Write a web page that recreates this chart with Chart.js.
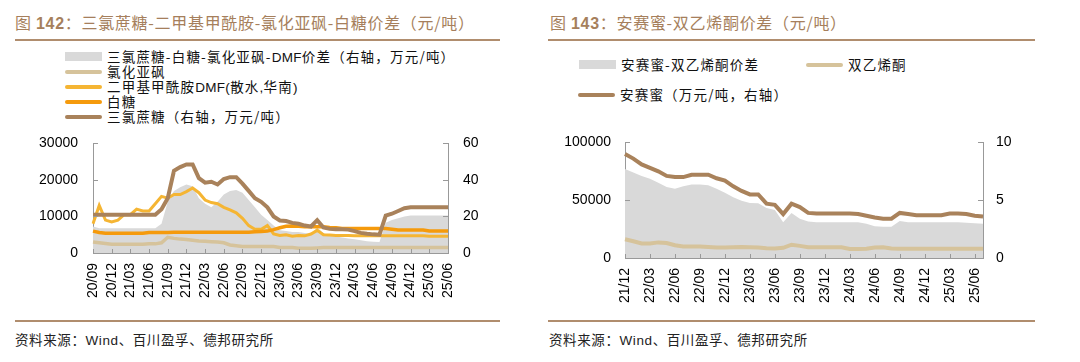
<!DOCTYPE html>
<html>
<head>
<meta charset="utf-8">
<script src="https://cdn.jsdelivr.net/npm/chart.js@4.4.1/dist/chart.umd.min.js"></script>
<style>
body{margin:0;width:1080px;height:362px;background:#fff;position:relative;overflow:hidden;font-family:"Liberation Sans","Noto Sans CJK SC",sans-serif;}
.title{position:absolute;top:12px;font-size:16px;line-height:20px;color:#A67F5C;white-space:nowrap;letter-spacing:0.7px;font-family:"Noto Sans CJK SC",sans-serif;}
.title b{font-family:"Liberation Sans",sans-serif;font-weight:bold;}
.rule{position:absolute;height:2px;background:#B08D6E;}
.item{position:absolute;white-space:nowrap;height:15px;line-height:15px;font-size:13.5px;color:#111;letter-spacing:1.2px;font-family:"Noto Sans CJK SC",sans-serif;}
.item i{position:absolute;left:0;top:6px;width:37px;height:3.5px;border-radius:2px;}
.item i.box{top:3px;height:9px;border-radius:0;}
.item span{position:absolute;left:42px;top:0;}
.item span em{font-style:normal;font-family:"Liberation Sans",sans-serif;letter-spacing:0.3px;}
.src{position:absolute;top:330px;font-size:13.5px;line-height:18px;color:#222;letter-spacing:0.6px;font-family:"Noto Sans CJK SC",sans-serif;white-space:nowrap;}
.src em{font-style:normal;font-family:"Liberation Sans",sans-serif;}
canvas{position:absolute;top:120px;}
</style>
</head>
<body>

<div class="title" style="left:15px">图 <b>142</b>：三氯蔗糖-二甲基甲酰胺-氯化亚砜-白糖价差（元/吨）</div>
<div class="rule" style="left:15px;width:485px;top:39px"></div>
<div class="item" style="left:65px;top:49px"><i class="box" style="background:#D9D9D9"></i><span>三氯蔗糖-白糖-氯化亚砜-<em>DMF</em>价差（右轴，万元/吨）</span></div>
<div class="item" style="left:65px;top:64px"><i style="background:#D6C39B"></i><span>氯化亚砜</span></div>
<div class="item" style="left:65px;top:79px"><i style="background:#F5B533"></i><span>二甲基甲酰胺<em>DMF(</em>散水<em>,</em>华南<em>)</em></span></div>
<div class="item" style="left:65px;top:94px"><i style="background:#F59A0C"></i><span>白糖</span></div>
<div class="item" style="left:65px;top:109px"><i style="background:#A9825B"></i><span>三氯蔗糖（右轴，万元/吨）</span></div>
<canvas id="leftChart" width="540" height="200" style="left:0"></canvas>
<div class="rule" style="left:15px;width:485px;top:320px"></div>
<div class="src" style="left:15px">资料来源：<em>Wind</em>、百川盈孚、德邦研究所</div>

<div class="title" style="left:550px">图 <b>143</b>：安赛蜜-双乙烯酮价差（元/吨）</div>
<div class="rule" style="left:548px;width:487px;top:39px"></div>
<div class="item" style="left:579px;top:57px"><i class="box" style="background:#D9D9D9"></i><span>安赛蜜-双乙烯酮价差</span></div>
<div class="item" style="left:806px;top:57px"><i style="background:#D6C39B"></i><span>双乙烯酮</span></div>
<div class="item" style="left:578px;top:87px"><i style="background:#A9825B"></i><span>安赛蜜（万元/吨，右轴）</span></div>
<canvas id="rightChart" width="540" height="200" style="left:540px"></canvas>
<div class="rule" style="left:548px;width:487px;top:320px"></div>
<div class="src" style="left:549px">资料来源：<em>Wind</em>、百川盈孚、德邦研究所</div>

<script>
// ---- Figure 142 data (monthly, 20/09 - 25/06) ----
const monthsA = ['20/09','20/10','20/11','20/12','21/01','21/02','21/03','21/04','21/05','21/06','21/07','21/08',
  '21/09','21/10','21/11','21/12','22/01','22/02','22/03','22/04','22/05','22/06','22/07','22/08',
  '22/09','22/10','22/11','22/12','23/01','23/02','23/03','23/04','23/05','23/06','23/07','23/08',
  '23/09','23/10','23/11','23/12','24/01','24/02','24/03','24/04','24/05','24/06','24/07','24/08',
  '24/09','24/10','24/11','24/12','25/01','25/02','25/03','25/04','25/05','25/06'];
// 三氯蔗糖 (万元/吨, right axis)
const sucralose = [21,21,21,21,21,21,21,21,21,21,21,24,
  30,45,47,48.5,48.5,41,38.5,39,37.5,40.5,41.5,41.5,
  38,34,30,28,25,20,17.8,17.5,16.5,16,15,14.5,
  18,14,13.2,13,13,12.8,12,11,10.5,10.2,10,20.5,
  21.5,23,24.5,25,25,25,25,25,25,25];
// 价差 (万元/吨, right axis)
const spreadA = [14.5,13.5,13.5,13.5,13.5,13.5,13.5,13.5,13.5,13.5,13.5,16,
  28,34,36,37.5,36.5,30,27,25,28,32,34,34.5,
  33,29,25,21,18,15,12.5,12,11.5,11.5,11,10.5,
  14,11,9.5,9,8.5,8,7.5,7,6.5,6.2,6,16.5,
  18,19,20,20.5,20.5,20.5,20.5,20.5,20.5,20.5];
// 二甲基甲酰胺DMF (元/吨)
const dmf = [8000,13000,9000,8500,9000,10500,10500,12000,11500,11500,13500,15500,
  15000,16000,16000,16800,17800,16500,14500,13800,13500,12500,11800,11000,
  9500,7500,6500,6500,7500,5200,4800,5000,4600,4800,4700,5200,
  6200,5000,4900,4800,4800,4800,4700,4700,4700,4700,4700,4700,
  4700,4700,4700,4700,4700,4700,4600,4600,4600,4600];
// 白糖 (元/吨)
const sugar = [6000,5600,5400,5400,5400,5400,5400,5400,5400,5600,5600,5600,
  5600,5700,5700,5700,5700,5700,5700,5700,5700,5700,5700,5700,
  5700,5700,5800,5900,6000,6400,6900,7300,7400,7300,7200,7200,
  7200,7200,7000,6900,6700,6700,6700,6700,6700,6700,6700,6700,
  6500,6300,6300,6300,6300,6300,6000,6000,6000,6000];
// 氯化亚砜 (元/吨)
const thionyl = [3000,2800,2600,2400,2400,2400,2400,2400,2400,2500,2500,2800,
  4300,4000,3800,3700,3500,3300,3200,3100,3000,2800,2200,2000,
  1800,1800,1800,1800,1800,1800,1500,1500,1500,1300,1300,1300,
  1400,1500,1500,1500,1500,1500,1500,1500,1500,1500,1500,1500,
  1500,1500,1500,1500,1500,1500,1500,1500,1500,1500];

// ---- Figure 143 data (monthly, 21/12 - 25/07) ----
const monthsB = ['21/12','22/01','22/02','22/03','22/04','22/05','22/06','22/07','22/08','22/09','22/10','22/11',
  '22/12','23/01','23/02','23/03','23/04','23/05','23/06','23/07','23/08','23/09','23/10','23/11',
  '23/12','24/01','24/02','24/03','24/04','24/05','24/06','24/07','24/08','24/09','24/10','24/11',
  '24/12','25/01','25/02','25/03','25/04','25/05','25/06','25/07'];
// 安赛蜜 (万元/吨, right axis)
const acesulfame = [9.0,8.6,8.1,7.8,7.5,7.1,7.0,7.0,7.2,7.2,7.2,6.9,
  6.7,6.2,5.8,5.5,5.5,4.7,4.6,3.8,4.7,4.4,3.9,3.85,
  3.85,3.85,3.85,3.85,3.8,3.65,3.5,3.4,3.4,3.9,3.8,3.7,
  3.7,3.7,3.7,3.85,3.85,3.8,3.65,3.6];
// 安赛蜜-双乙烯酮价差 (元/吨)
const spreadB = [77000,74000,71000,68500,65000,61500,60000,62000,63500,63500,63000,60000,
  56500,52500,49500,47500,47300,43200,41500,31000,39000,34000,31500,31000,
  31000,31000,31000,31000,31000,29700,27500,27000,27000,32000,31000,31000,
  31000,31000,31000,31000,31000,30500,30000,29700];
// 双乙烯酮 (元/吨)
const diketene = [16200,14500,12500,12500,13500,13000,11000,10000,10000,10000,9500,9000,
  9000,9200,9500,9200,9000,8500,8200,8800,11500,10500,9300,9300,
  9300,9300,9300,7800,7800,8000,9000,9200,8200,8000,8000,8000,
  8000,8000,8000,8000,8000,8000,8000,8000];

Chart.defaults.font.family = '"Liberation Sans", Arial, sans-serif';
Chart.defaults.font.size = 14;
Chart.defaults.color = '#000';

// ticks drawn inward from the axis lines
const innerTicks = {
  id: 'innerTicks',
  afterDraw(chart) {
    const ctx = chart.ctx;
    const area = chart.chartArea;
    ctx.save();
    ctx.strokeStyle = '#999';
    ctx.lineWidth = 1;
    Object.values(chart.scales).forEach(s => {
      s.ticks.forEach((t, i) => {
        if (t.label === null || t.label === undefined) return;
        ctx.beginPath();
        if (s.axis === 'x') {
          const x = Math.round(s.getPixelForTick(i)) + 0.5;
          ctx.moveTo(x, area.bottom);
          ctx.lineTo(x, area.bottom - 4);
        } else {
          const y = Math.round(s.getPixelForTick(i)) + 0.5;
          if (s.position === 'left') {
            ctx.moveTo(area.left, y);
            ctx.lineTo(area.left + 5, y);
          } else {
            ctx.moveTo(area.right, y);
            ctx.lineTo(area.right - 5, y);
          }
        }
        ctx.stroke();
      });
    });
    ctx.restore();
  }
};

function lineSet(data, color, width, axis, order) {
  return {
    data: data, borderColor: color, borderWidth: width, pointRadius: 0,
    tension: 0, fill: false, yAxisID: axis, order: order
  };
}

function areaSet(data, axis) {
  return {
    data: data, borderColor: 'rgba(0,0,0,0)', borderWidth: 0, backgroundColor: '#D9D9D9',
    pointRadius: 0, tension: 0, fill: 'origin', yAxisID: axis, order: 9
  };
}

function xScale(height, lastTick) {
  return {
    grid: { drawOnChartArea: false, drawTicks: false },
    border: { color: '#999' },
    ticks: {
      autoSkip: false, minRotation: 90, maxRotation: 90, padding: 10,
      callback: function(val, i) { return (i % 3 === 0 && i <= lastTick) ? this.getLabelForValue(val) : null; }
    },
    afterFit: s => { s.height = height; }
  };
}

function yScale(pos, max, step, width, pad) {
  return {
    position: pos, min: 0, max: max,
    grid: { drawOnChartArea: false, drawTicks: false },
    border: { color: '#999' },
    ticks: { stepSize: step, padding: pad, callback: v => String(v) },
    afterFit: s => { s.width = width; }
  };
}

new Chart(document.getElementById('leftChart').getContext('2d'), {
  type: 'line',
  data: {
    labels: monthsA,
    datasets: [
      areaSet(spreadA, 'y1'),
      lineSet(thionyl, '#D6C39B', 3.5, 'y', 4),
      lineSet(dmf, '#F5B533', 3, 'y', 3),
      lineSet(sugar, '#F59A0C', 3.5, 'y', 2),
      lineSet(sucralose, '#A9825B', 4, 'y1', 1)
    ]
  },
  options: {
    responsive: false, animation: false,
    layout: { padding: { top: 15 } },
    plugins: { legend: { display: false }, tooltip: { enabled: false } },
    scales: {
      x: xScale(67, 57),
      y: yScale('left', 30000, 10000, 93, 15),
      y1: yScale('right', 60, 20, 92, 15)
    }
  },
  plugins: [innerTicks]
});

new Chart(document.getElementById('rightChart').getContext('2d'), {
  type: 'line',
  data: {
    labels: monthsB,
    datasets: [
      areaSet(spreadB, 'y'),
      lineSet(diketene, '#D6C39B', 4, 'y', 2),
      lineSet(acesulfame, '#A9825B', 4, 'y1', 1)
    ]
  },
  options: {
    responsive: false, animation: false,
    layout: { padding: { top: 15 } },
    plugins: { legend: { display: false }, tooltip: { enabled: false } },
    scales: {
      x: xScale(62, 42),
      y: yScale('left', 100000, 50000, 85, 14),
      y1: yScale('right', 10, 5, 97, 13)
    }
  },
  plugins: [innerTicks]
});
</script>
</body>
</html>
